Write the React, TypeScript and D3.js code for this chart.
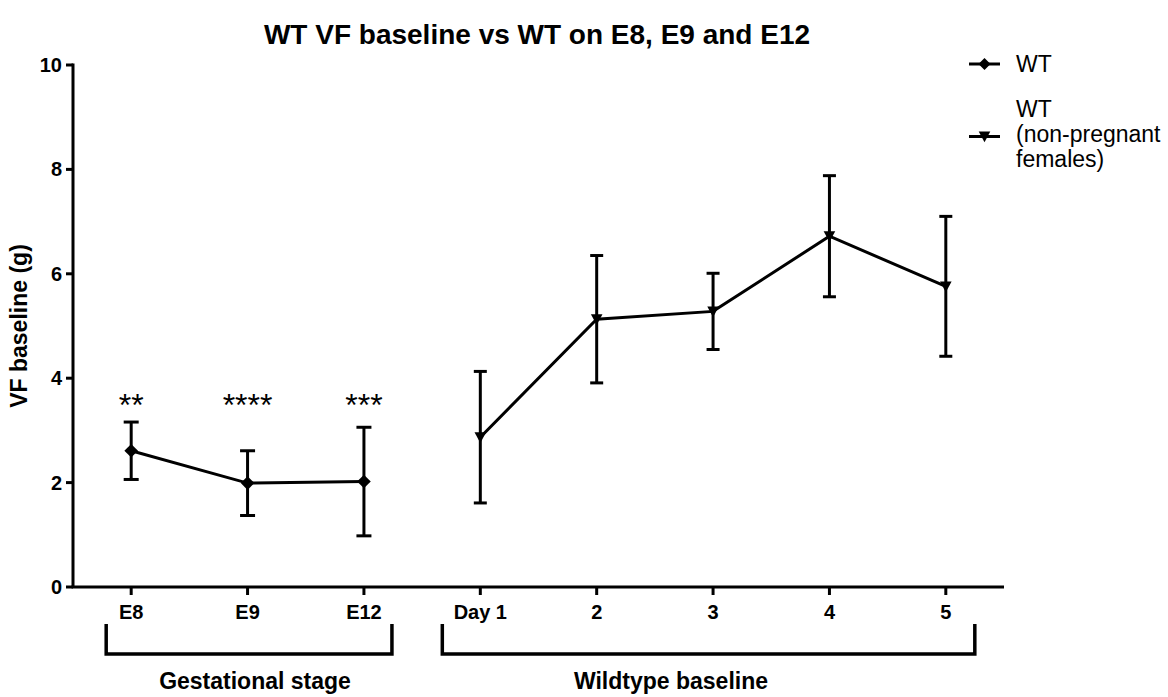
import * as d3 from 'd3';

const categories = ['E8', 'E9', 'E12', 'Day 1', '2', '3', '4', '5'];

// WT (pregnant) gestational stage points
const wtDays = ['E8', 'E9', 'E12'];
const wtMean = [2.61, 1.99, 2.02];
const wtErr = [0.55, 0.62, 1.04];
const wtStars = ['**', '****', '***'];

// WT non-pregnant females baseline
const npDays = ['Day 1', '2', '3', '4', '5'];
const npMean = [2.87, 5.13, 5.28, 6.72, 5.76];
const npErr = [1.26, 1.22, 0.73, 1.16, 1.34];

const yTicks = [0, 2, 4, 6, 8, 10];

const W = 1168;
const H = 697;
const FONT = 'Arial, "Liberation Sans", Helvetica, sans-serif';

export default function App() {
  const x = d3.scaleBand<string>().domain(categories).range([73, 1004]);
  const cx = (c: string) => (x(c) ?? 0) + x.bandwidth() / 2;
  const y = d3.scaleLinear().domain([0, 10]).range([587, 65]);

  const line = d3.line<number>();
  const wtPts: [number, number][] = wtDays.map((d, i) => [cx(d), y(wtMean[i])]);
  const npPts: [number, number][] = npDays.map((d, i) => [cx(d), y(npMean[i])]);

  const diamond = (s: number) => `M0,${-s}L${s},0L0,${s}L${-s},0Z`;
  const tri = (s: number) => `M${-s},${-s * 0.85}L${s},${-s * 0.85}L0,${s}Z`;

  const errBar = (px: number, m: number, e: number, cap: number, key: string) => (
    <g key={key} stroke="#000" strokeWidth={3} fill="none">
      <line x1={px} x2={px} y1={y(m + e)} y2={y(m - e)} />
      <line x1={px - cap} x2={px + cap} y1={y(m + e)} y2={y(m + e)} />
      <line x1={px - cap} x2={px + cap} y1={y(m - e)} y2={y(m - e)} />
    </g>
  );

  const leftBr = [cx('E8') - 25, cx('E12') + 28];
  const rightBr = [cx('Day 1') - 38, cx('5') + 29];

  return (
    <svg width={W} height={H} style={{ position: 'absolute', left: 0, top: 0, background: '#fff' }} fontFamily={FONT}>
      <text x={537} y={44} textAnchor="middle" fontSize={28} fontWeight="bold">
        WT VF baseline vs WT on E8, E9 and E12
      </text>

      {/* y axis */}
      <line x1={73} x2={73} y1={y(10) - 1.5} y2={y(0)} stroke="#000" strokeWidth={3} />
      {yTicks.map((t) => (
        <g key={t}>
          <line x1={66} x2={73} y1={y(t)} y2={y(t)} stroke="#000" strokeWidth={3} />
          <text x={62} y={y(t) + 7} textAnchor="end" fontSize={20} fontWeight="bold">
            {t}
          </text>
        </g>
      ))}
      <text
        transform={`translate(27,${(y(0) + y(10)) / 2}) rotate(-90)`}
        textAnchor="middle"
        fontSize={23}
        fontWeight="bold"
      >
        VF baseline (g)
      </text>

      {/* x axis */}
      <line x1={71.5} x2={1004} y1={y(0)} y2={y(0)} stroke="#000" strokeWidth={3} />
      {categories.map((c) => (
        <g key={c}>
          <line x1={cx(c)} x2={cx(c)} y1={y(0)} y2={y(0) + 8} stroke="#000" strokeWidth={3} />
          <text x={cx(c)} y={619} textAnchor="middle" fontSize={20} fontWeight="bold">
            {c}
          </text>
        </g>
      ))}

      {/* group brackets */}
      {[leftBr, rightBr].map((b, i) => (
        <path
          key={i}
          d={`M${b[0]},624V654H${b[1]}V624`}
          fill="none"
          stroke="#000"
          strokeWidth={3.5}
        />
      ))}
      <text x={255} y={689} textAnchor="middle" fontSize={23} fontWeight="bold">
        Gestational stage
      </text>
      <text x={671} y={689} textAnchor="middle" fontSize={23} fontWeight="bold">
        Wildtype baseline
      </text>

      {/* WT series */}
      {wtDays.map((d, i) => errBar(cx(d), wtMean[i], wtErr[i], 7.5, 'we' + i))}
      <path d={line(wtPts) ?? ''} fill="none" stroke="#000" strokeWidth={3} />
      {wtPts.map((p, i) => (
        <path key={i} d={diamond(6.8)} transform={`translate(${p[0]},${p[1]})`} fill="#000" />
      ))}
      {wtDays.map((d, i) => (
        <text key={d} x={cx(d)} y={y(3.62) + 18} textAnchor="middle" fontSize={32}>
          {wtStars[i]}
        </text>
      ))}

      {/* non-pregnant series */}
      {npDays.map((d, i) => errBar(cx(d), npMean[i], npErr[i], 6.5, 'ne' + i))}
      <path d={line(npPts) ?? ''} fill="none" stroke="#000" strokeWidth={3} />
      {npPts.map((p, i) => (
        <path key={i} d={tri(5.8)} transform={`translate(${p[0]},${p[1]})`} fill="#000" />
      ))}

      {/* legend */}
      <line x1={969} x2={1000} y1={64} y2={64} stroke="#000" strokeWidth={3} />
      <path d={diamond(6)} transform="translate(984.5,64)" fill="#000" />
      <text x={1016} y={72} fontSize={23}>WT</text>
      <line x1={969} x2={1000} y1={136.5} y2={136.5} stroke="#000" strokeWidth={3} />
      <path d={tri(5.8)} transform="translate(984.5,136.5)" fill="#000" />
      <text x={1016} y={116.5} fontSize={23}>WT</text>
      <text x={1016} y={141.5} fontSize={23}>(non-pregnant</text>
      <text x={1016} y={166.5} fontSize={23}>females)</text>
    </svg>
  );
}
